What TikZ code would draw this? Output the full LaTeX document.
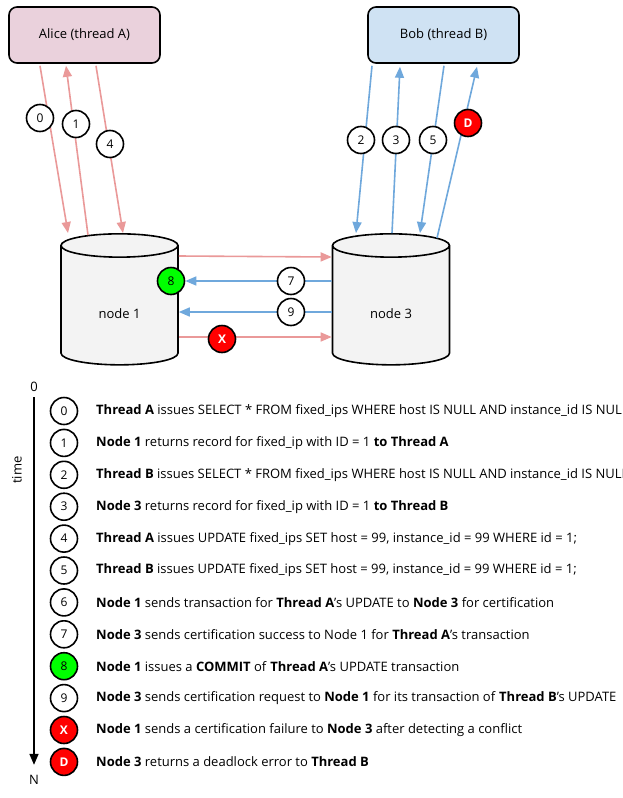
\documentclass[tikz,border=0pt]{standalone}
\usepackage{fontspec}
\setmainfont{Open Sans}
\usetikzlibrary{arrows.meta,shapes.geometric}
\definecolor{pinkline}{HTML}{EA9999}
\definecolor{blueline}{HTML}{6FA8DC}
\definecolor{alicefill}{HTML}{EAD1DC}
\definecolor{bobfill}{HTML}{CFE2F3}
\definecolor{dbfill}{HTML}{F3F3F3}
\definecolor{okgreen}{HTML}{00FF00}
\definecolor{badred}{HTML}{FF0000}

\begin{document}
\begin{tikzpicture}[x=1pt,y=-1pt,
  font=\fontsize{13}{15}\selectfont,
  thread/.style={draw,line width=1.6pt,rounded corners=8pt,minimum width=151pt,minimum height=56pt},
  db/.style={draw,line width=1.6pt,fill=dbfill,cylinder,shape border rotate=90,aspect=0.48,minimum width=117pt,minimum height=131pt},
  num/.style={circle,draw,line width=1.6pt,fill=white,minimum size=27pt,inner sep=0pt,font=\fontsize{12}{14}\selectfont},
  idle/.style={num},
  ok/.style={num,fill=okgreen},
  bad/.style={num,fill=badred,text=white,font=\fontsize{12}{14}\selectfont\bfseries},
  pa/.style={pinkline,line width=1.6pt,-{Triangle[length=11pt,width=9pt]}},
  ba/.style={blueline,line width=1.6pt,-{Triangle[length=11pt,width=9pt]}}]
\fill[white] (0,0) rectangle (623,798);
\useasboundingbox (0,0) rectangle (623,798);

% threads and nodes
\node[thread,fill=alicefill] (alice) at (84.5,35) {Alice (thread A)};
\node[thread,fill=bobfill] (bob) at (443.5,35) {Bob (thread B)};
\node[db] (node1) at (119.5,307.5) {\raisebox{-8pt}[8pt][3pt]{node 1}};
\node[db] (node3) at (391,307.5) {\raisebox{-8pt}[8pt][3pt]{node 3}};

% thread A <-> node 1
\draw[pa] ([xshift=-44.5pt,yshift=-2pt]alice.south) -- ([xshift=-51.5pt]node1.north);
\draw[pa] ([xshift=-31.5pt,yshift=-2pt]node1.north) -- ([xshift=-18.5pt,yshift=-2pt]alice.south);
\draw[pa] ([xshift=11.5pt,yshift=-2pt]alice.south) -- ([xshift=3.5pt]node1.north);

% thread B <-> node 3
\draw[ba] ([xshift=-71.5pt,yshift=-2pt]bob.south) -- ([xshift=-35pt]node3.north);
\draw[ba] ([xshift=1pt]node3.north) -- ([xshift=-43.5pt,yshift=-3pt]bob.south);
\draw[ba] ([xshift=0.5pt,yshift=-2pt]bob.south) -- ([xshift=29pt]node3.north);
\draw[ba] ([xshift=46pt,yshift=-5pt]node3.north) -- ([xshift=33.5pt,yshift=-3pt]bob.south);

% node 1 <-> node 3
\node[ok] (c8) at (171,281) {8};
\draw[pa] ([yshift=51.5pt]node1.east) -- ([yshift=50.5pt]node3.west);
\draw[ba] ([yshift=26.5pt]node3.west) -- (c8);
\draw[ba] ([yshift=-4.5pt]node3.west) -- ([yshift=-4.5pt]node1.east);
\draw[pa] ([yshift=-29.5pt]node1.east) -- ([yshift=-29.5pt]node3.west);

\node[idle] (c0) at (40,118) {0};
\node[idle] (c1) at (76,124) {1};
\node[idle] (c4) at (110,144) {4};
\node[idle] (c2) at (361,140) {2};
\node[idle] (c3) at (396,140) {3};
\node[idle] (c5) at (433,140) {5};
\node[bad] (cD) at (468,123) {D};
\node[idle] (c7) at (291,281) {7};
\node[idle] (c9) at (291,312) {9};
\node[bad] (cX) at (222,339) {X};

% time line
\node (tstart) at (34,387) {0};
\node (tend) at (34,780) {N};
\node[rotate=90] (tlabel) at (17,470) {time};
\draw[line width=1.6pt,-{Triangle[length=11pt,width=9pt]},shorten <=2pt,shorten >=7pt] (tstart) -- (tend);

% legend
\foreach \k/\s/\t [count=\i from 0] in {
  0/idle/{\textbf{Thread A} issues SELECT * FROM fixed\_ips WHERE host IS NULL AND instance\_id IS NULL},
  1/idle/{\textbf{Node 1} returns record for fixed\_ip with ID = 1 \textbf{to Thread A}},
  2/idle/{\textbf{Thread B} issues SELECT * FROM fixed\_ips WHERE host IS NULL AND instance\_id IS NULL},
  3/idle/{\textbf{Node 3} returns record for fixed\_ip with ID = 1 \textbf{to Thread B}},
  4/idle/{\textbf{Thread A} issues UPDATE fixed\_ips SET host = 99, instance\_id = 99 WHERE id = 1;},
  5/idle/{\textbf{Thread B} issues UPDATE fixed\_ips SET host = 99, instance\_id = 99 WHERE id = 1;},
  6/idle/{\textbf{Node 1} sends transaction for \textbf{Thread A}’s UPDATE to \textbf{Node 3} for certification},
  7/idle/{\textbf{Node 3} sends certification success to Node 1 for \textbf{Thread A}’s transaction},
  8/ok/{\textbf{Node 1} issues a \textbf{COMMIT} of \textbf{Thread A}’s UPDATE transaction},
  9/idle/{\textbf{Node 3} sends certification request to \textbf{Node 1} for its transaction of \textbf{Thread B}’s UPDATE},
  X/bad/{\textbf{Node 1} sends a certification failure to \textbf{Node 3} after detecting a conflict},
  D/bad/{\textbf{Node 3} returns a deadlock error to \textbf{Thread B}}}{
  \node[\s] (leg\i) at (64,411+31.9*\i) {\k};
  \node[anchor=west,inner sep=0pt] (txt\i) at (96,411+31.9*\i) {\t};
}
\end{tikzpicture}
\end{document}
